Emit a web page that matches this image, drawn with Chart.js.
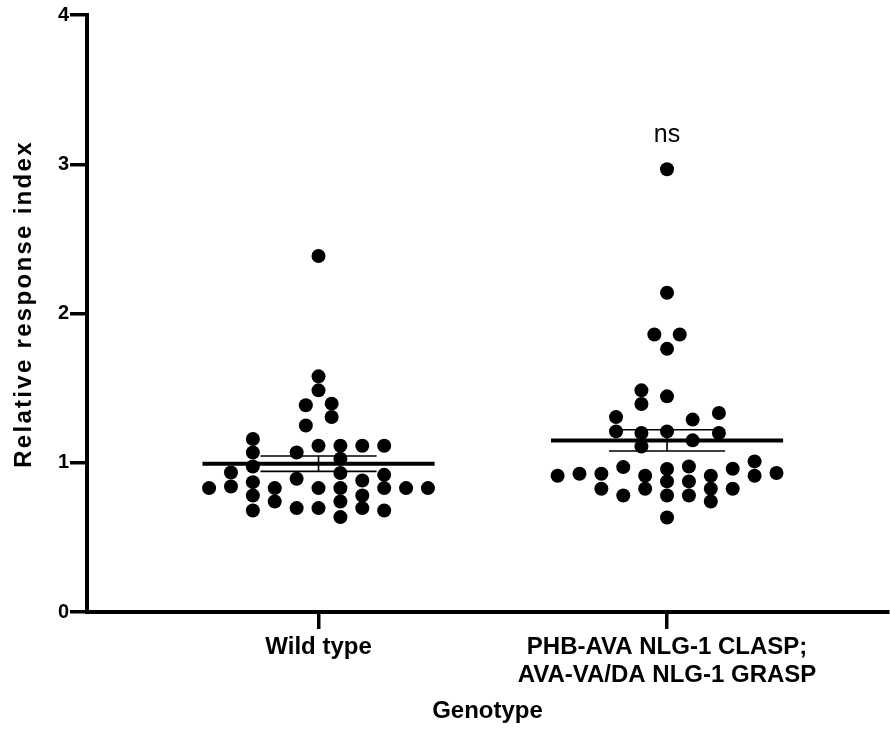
<!DOCTYPE html>
<html>
<head>
<meta charset="utf-8">
<script src="https://cdn.jsdelivr.net/npm/chart.js@4"></script>
<style>
  body { margin: 0; background: #fff; }
  canvas { display: block; }
</style>
</head>
<body>
<canvas id="myChart" width="890" height="732"></canvas>
<script>
// categories on the x axis (one per genotype)
var categories = ['Wild type', ['PHB-AVA NLG-1 CLASP;', 'AVA-VA/DA NLG-1 GRASP']];
var yTicks = [0, 1, 2, 3, 4];

// relative response index per animal, and its beeswarm column
var wildTypeValues = [2.385, 1.579, 1.485, 1.385, 1.396, 1.250, 1.307,
    1.159, 1.069, 0.975, 0.870, 0.781, 0.680,
    1.069, 1.114, 1.114, 1.114, 1.114, 1.027, 0.931, 0.893,
    0.935, 0.841, 0.830, 0.830, 0.740, 0.696, 0.830, 0.696,
    0.830, 0.740, 0.636, 0.881, 0.781, 0.696, 0.919, 0.830, 0.680, 0.830, 0.830];
var wildTypeColumns = [0, 0, 0, -0.58, 0.6, -0.58, 0.6,
    -3, -3, -3, -3, -3, -3,
    -1, 0, 1, 2, 3, 1, 1, -1,
    -4, -4, -5, -2, -2, -1, 0, 0,
    1, 1, 1, 2, 2, 2, 3, 3, 3, 4, 5];

var graspValues = [2.966, 2.139, 1.859, 1.859, 1.763, 1.485, 1.394, 1.445,
    1.306, 1.210, 1.199, 1.109, 1.210, 1.289, 1.150, 1.333, 1.199,
    0.913, 0.926, 0.926, 0.826, 0.971, 0.781, 0.913, 0.826,
    0.958, 0.875, 0.781, 0.633, 0.975, 0.875, 0.781,
    0.913, 0.826, 0.740, 0.960, 0.826, 1.009, 0.913, 0.931];
var graspColumns = [0, 0, -0.58, 0.58, 0, -1.17, -1.17, 0,
    -2.33, -2.33, -1.17, -1.17, 0, 1.17, 1.17, 2.37, 2.37,
    -5, -4, -3, -3, -2, -2, -1, -1,
    0, 0, 0, 0, 1, 1, 1,
    2, 2, 2, 3, 3, 4, 4, 5];

var font = '"Liberation Sans", Arial, Helvetica, sans-serif';
var colStep = 0.0628;

function swarm(values, columns, pos) {
    return values.map(function (v, i) { return { x: pos + columns[i] * colStep, y: v }; });
}
function mean(a) {
    return a.reduce(function (s, v) { return s + v; }, 0) / a.length;
}
function sem(a) {
    var m = mean(a);
    var ss = a.reduce(function (s, v) { return s + (v - m) * (v - m); }, 0);
    return Math.sqrt(ss / (a.length - 1)) / Math.sqrt(a.length);
}
function meanLine(a, pos) {
    var m = mean(a);
    return [{ x: pos - 0.333, y: m }, { x: pos + 0.333, y: m }];
}
function semBars(a, pos) {
    var m = mean(a), e = sem(a), w = 0.1665;
    return [
        { x: pos - w, y: m + e }, { x: pos + w, y: m + e }, { x: pos, y: null },
        { x: pos, y: m + e }, { x: pos, y: m - e }, { x: pos, y: null },
        { x: pos - w, y: m - e }, { x: pos + w, y: m - e }
    ];
}

var pointStyle = {
    type: 'scatter', backgroundColor: '#000', borderWidth: 0,
    pointRadius: 7, pointHoverRadius: 7, order: 2
};
function lineStyle(data, width) {
    return {
        type: 'line', data: data, borderColor: '#000', borderWidth: width,
        pointRadius: 0, spanGaps: false, fill: false, order: 1
    };
}

// "ns" over the second group, and the stretched y title
var extraText = {
    id: 'extraText',
    afterDatasetsDraw: function (chart) {
        var c = chart.ctx;
        var x = chart.scales.x.getPixelForValue(2);
        var y = chart.scales.y.getPixelForValue(Math.max.apply(null, graspValues)) - 27;
        c.save();
        c.font = '25px ' + font;
        c.fillStyle = '#000';
        c.textAlign = 'center';
        c.textBaseline = 'alphabetic';
        c.fillText('ns', x, y);

        c.translate(31, 304);
        c.rotate(-Math.PI / 2);
        c.font = 'bold 24px ' + font;
        if ('letterSpacing' in c) c.letterSpacing = '2.3px';
        c.fillText('Relative response index', 0, 0);
        c.restore();
    }
};

var axisGrid = { drawOnChartArea: false, drawTicks: true, tickLength: 17, color: '#000', lineWidth: 3.5 };
var axisBorder = { display: true, color: '#000', width: 4 };

new Chart(document.getElementById('myChart'), {
    type: 'scatter',
    data: {
        datasets: [
            Object.assign({ data: swarm(wildTypeValues, wildTypeColumns, 1) }, pointStyle),
            Object.assign({ data: swarm(graspValues, graspColumns, 2) }, pointStyle),
            lineStyle(meanLine(wildTypeValues, 1), 4),
            lineStyle(meanLine(graspValues, 2), 4),
            lineStyle(semBars(wildTypeValues, 1), 1.6),
            lineStyle(semBars(graspValues, 2), 1.6)
        ]
    },
    options: {
        responsive: false,
        animation: false,
        layout: { autoPadding: false, padding: { top: 15, right: 2, left: 0, bottom: 0 } },
        plugins: { legend: { display: false }, tooltip: { enabled: false } },
        scales: {
            x: {
                type: 'linear', min: 0.3357, max: 2.634,
                afterBuildTicks: function (s) { s.ticks = [{ value: 1 }, { value: 2 }]; },
                afterFit: function (s) { s.height = 120; },
                ticks: {
                    callback: function (v, i) { return categories[i]; },
                    color: '#000', padding: 4, maxRotation: 0, autoSkip: false,
                    font: { family: font, size: 24, weight: 'bold', lineHeight: 1.17 }
                },
                grid: axisGrid,
                border: axisBorder,
                title: {
                    display: true, text: 'Genotype', color: '#000',
                    font: { family: font, size: 24, weight: 'bold' }, padding: { top: 8, bottom: 6 }
                }
            },
            y: {
                min: 0, max: 4,
                afterBuildTicks: function (s) { s.ticks = yTicks.map(function (v) { return { value: v }; }); },
                afterFit: function (s) { s.width = 87; },
                ticks: {
                    color: '#000', padding: 1,
                    font: { family: font, size: 20, weight: 'bold' }
                },
                grid: axisGrid,
                border: axisBorder
            }
        }
    },
    plugins: [extraText]
});
</script>
</body>
</html>
